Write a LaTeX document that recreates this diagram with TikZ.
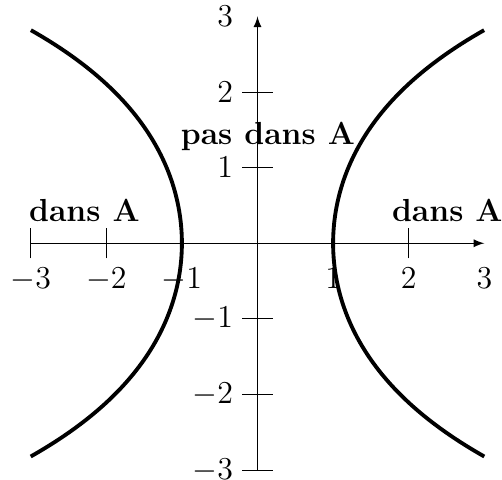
\documentclass[tikz,border=0pt]{standalone}
\usepackage{fontspec}
\begin{document}
\begin{tikzpicture}[font=\fontsize{12}{14.4}\selectfont,
  axis/.style={line width=0.4pt,-latex},
  tickmark/.style={line width=0.4pt},
  curve/.style={line width=1.45pt},
  region/.style={font=\fontsize{12}{14.4}\selectfont\bfseries, anchor=base, inner sep=0pt}]
\useasboundingbox (-3.406,-3.118) rectangle (3.234,3.218);
\coordinate (xl) at (-3,0);
\coordinate (xr) at (3,0);
\coordinate (yb) at (0,-3);
\coordinate (yt) at (0,3);
\draw[axis] (xl) -- (xr);
\draw[axis] (yb) -- (yt);
\foreach \v in {-3,-2,-1,1,2}{
  \draw[tickmark] (\v,-0.2) -- (\v,0.2);
  \draw[tickmark] (-0.2,\v) -- (0.2,\v);
}
\foreach \v in {-3,-2,-1,1,2,3}{
  \node[below] (lx\v) at (\v,-0.2) {$\v$};
  \node[left] (ly\v) at (-0.2,\v) {$\v$};
}
\draw[curve, domain=-1.7627:1.7627, samples=120, variable=\t] plot ({cosh(\t)},{1.6*\t});
\draw[curve, domain=-1.7627:1.7627, samples=120, variable=\t] plot ({-cosh(\t)},{1.6*\t});
\node[region] (dl) at (-2.29,0.286) {dans A};
\node[region] (dr) at (2.51,0.286) {dans A};
\node[region] (pd) at (0.137,1.30) {pas dans A};
\end{tikzpicture}
\end{document}
